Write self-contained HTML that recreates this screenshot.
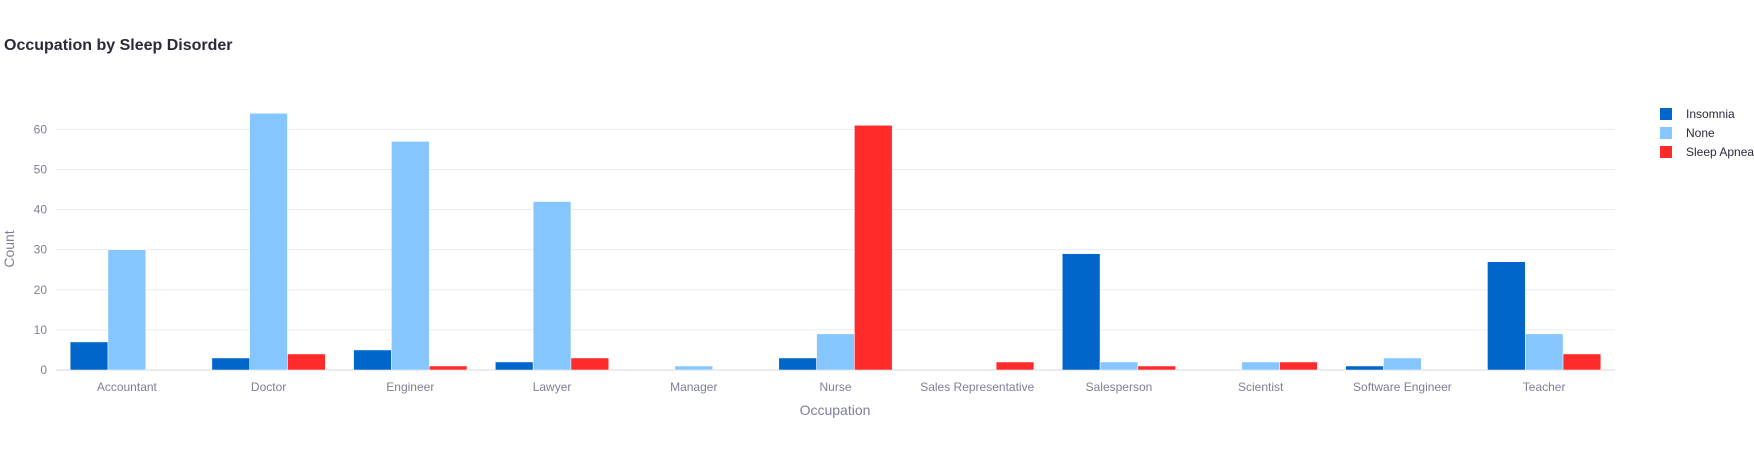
<!DOCTYPE html>
<html><head><meta charset="utf-8"><style>
body{margin:0;background:#fff;font-family:"Liberation Sans",sans-serif;}
svg text{font-family:"Liberation Sans",sans-serif;}
</style></head><body>
<svg id="chart" width="1754" height="450">
<text x="4" y="50" font-size="16" font-weight="bold" fill="#2a2a3a">Occupation by Sleep Disorder</text>
<g id="grid"></g><g id="bars"></g><g id="ticks"></g>
<text x="835" y="415" font-size="14" fill="#7f7f96" text-anchor="middle">Occupation</text>
<text transform="translate(14,249) rotate(-90)" font-size="14" fill="#7f7f96" text-anchor="middle">Count</text>
<g id="legend"></g>
</svg>
<script>
const categories=["Accountant","Doctor","Engineer","Lawyer","Manager","Nurse","Sales Representative","Salesperson","Scientist","Software Engineer","Teacher"];
const insomnia=[7,3,5,2,0,3,0,29,0,1,27];
const none=[30,64,57,42,1,9,0,2,2,3,9];
const sleepApnea=[0,4,1,3,0,61,2,1,2,0,4];
const seriesNames=["Insomnia","None","Sleep Apnea"];
const yTicks=[0,10,20,30,40,50,60];
const colors=["#0066cc","#85c6ff","#ff2b2b"];
const NS="http://www.w3.org/2000/svg";
const L=56,R=1615,Y0=370,PX=4.011;
const y=v=>Y0-v*PX;
const band=(R-L)/categories.length;
const bx=(i,s)=>L+i*band+band*0.1+s*band*0.8/3;
function mk(t,a,p){const e=document.createElementNS(NS,t);for(const k in a)e.setAttribute(k,a[k]);p.appendChild(e);return e;}
const grid=document.getElementById('grid'),bars=document.getElementById('bars'),ticks=document.getElementById('ticks'),leg=document.getElementById('legend');
yTicks.forEach(v=>{
  const g=mk('line',{x1:L,x2:R,y1:y(v),y2:y(v),stroke:v===0?'#ebebf2':'#ebebf0','stroke-width':v===0?2:1},grid);
  
  
  const t=mk('text',{x:L-9,y:y(v)+4,'font-size':12,fill:'#7f7f96','text-anchor':'end'},ticks);
  t.textContent=v;
  
  
});
[insomnia,none,sleepApnea].forEach((arr,s)=>{
  arr.forEach((v,i)=>{
    if(v<=0)return;
    const r=mk('rect',{x:bx(i,s),y:y(v),width:band*0.8/3,height:v*PX,fill:colors[s],stroke:'#fff','stroke-width':0.5},bars);
    
    
  });
});
categories.forEach((c,i)=>{
  const t=mk('text',{x:L+(i+0.5)*band,y:391,'font-size':12,fill:'#7f7f96','text-anchor':'middle'},ticks);
  t.textContent=c;
  
  
});
seriesNames.forEach((n,s)=>{
  const g=mk('g',{},leg);
  
  
  mk('rect',{x:1660,y:108+s*19,width:12,height:12,fill:colors[s]},g);
  const t=mk('text',{x:1686,y:118+s*19,'font-size':12,fill:'#2a2a3a'},g);
  t.textContent=n;
});
</script>
</body></html>
